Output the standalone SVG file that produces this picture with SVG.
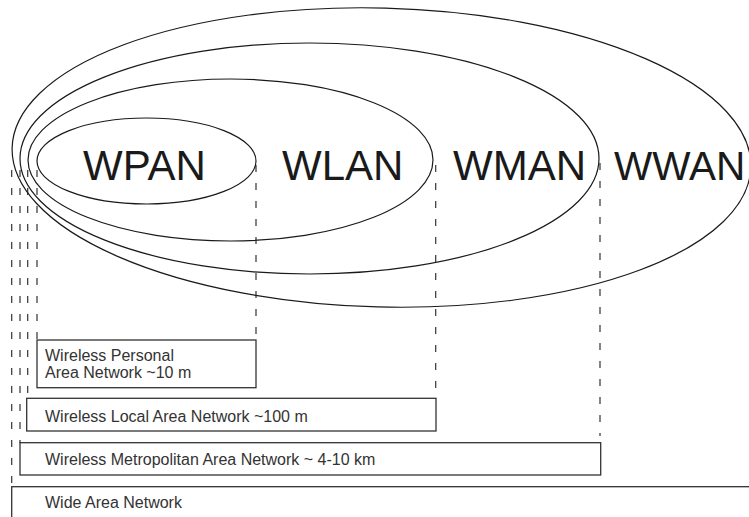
<svg xmlns="http://www.w3.org/2000/svg" width="749" height="517" viewBox="0 0 749 517">
<style>
.ell{fill:none;stroke:#1a1a1a;stroke-width:1.2}
.box{fill:none;stroke:#333;stroke-width:1.3}
.dash{fill:none;stroke:#333;stroke-width:1.2;stroke-dasharray:7 11}
.big{font-family:"Liberation Sans",Arial,sans-serif;font-size:42px;fill:#1a1a1a}
.small{font-family:"Liberation Sans",Arial,sans-serif;font-size:16px;fill:#333}
</style>
<rect width="749" height="517" fill="#fff"/>
<g id="connectors">
<line class="dash" x1="11.7" y1="170" x2="11.7" y2="487"/>
<line class="dash" x1="20" y1="170" x2="20" y2="443"/>
<line class="dash" x1="27.7" y1="170" x2="27.7" y2="398"/>
<line class="dash" x1="37" y1="170" x2="37" y2="340"/>
<line class="dash" x1="256" y1="165" x2="256" y2="340"/>
<line class="dash" x1="435.7" y1="165" x2="435.7" y2="398"/>
<line class="dash" x1="600" y1="163" x2="600" y2="436"/>
</g>
<g id="wwan">
<ellipse class="ell" cx="381.5" cy="157.5" rx="369.5" ry="149.5" transform="rotate(1.5 381.5 157.5)"/>
<text class="big" x="614" y="180" style="font-size:40.5px">WWAN</text>
</g>
<g id="wman">
<ellipse class="ell" cx="309.5" cy="158.5" rx="289.5" ry="115.5"/>
<text class="big" x="453" y="180">WMAN</text>
</g>
<g id="wlan">
<ellipse class="ell" cx="230.5" cy="160" rx="202.5" ry="81"/>
<text class="big" x="282" y="180">WLAN</text>
</g>
<g id="wpan">
<ellipse class="ell" cx="146.5" cy="161" rx="109.5" ry="43"/>
<text class="big" x="83" y="180">WPAN</text>
</g>
<g id="box-wpan">
<rect class="box" x="37" y="340" width="219" height="47.7"/>
<text class="small" x="45" y="360.7">Wireless Personal</text>
<text class="small" x="45" y="378.3">Area Network ~10 m</text>
</g>
<g id="box-wlan">
<rect class="box" x="26.7" y="398.3" width="409.3" height="32.7"/>
<text class="small" x="45" y="421.7">Wireless Local Area Network ~100 m</text>
</g>
<g id="box-wman">
<rect class="box" x="20" y="442.7" width="580.7" height="32.3"/>
<text class="small" x="45" y="465">Wireless Metropolitan Area Network ~ 4-10 km</text>
</g>
<g id="box-wan">
<rect class="box" x="11.7" y="486.7" width="760" height="60"/>
<text class="small" x="45" y="508.3">Wide Area Network</text>
</g>
</svg>
